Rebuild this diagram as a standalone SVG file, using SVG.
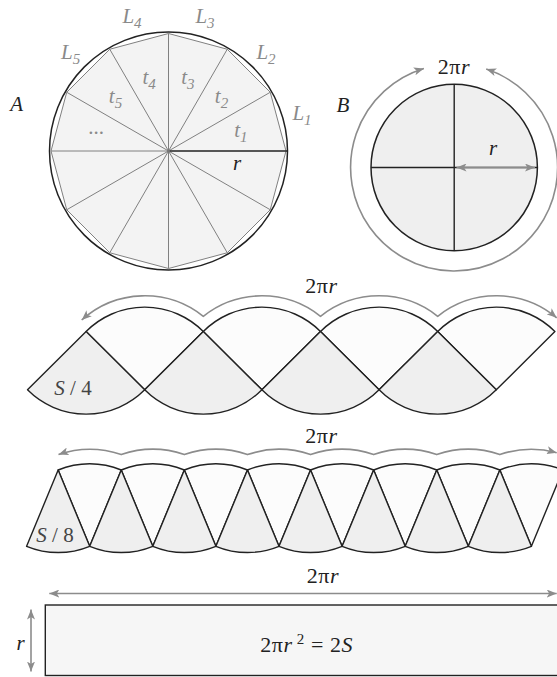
<svg xmlns="http://www.w3.org/2000/svg" width="557" height="677" viewBox="0 0 557 677">
<style>
.bg{fill:#ffffff}
.ol{stroke:#222;stroke-width:1.4;fill:none;stroke-linejoin:round}
.sh{fill:#efefef;stroke:#222;stroke-width:1.4;stroke-linejoin:round}
.wh{fill:#fcfcfc;stroke:#222;stroke-width:1.4;stroke-linejoin:round}
.poly{fill:#f3f3f3;stroke:#808080;stroke-width:1}
.spk{stroke:#808080;stroke-width:1;fill:none}
.arr{stroke:#8c8c8c;stroke-width:1.6;fill:none;marker-start:url(#ah);marker-end:url(#ah)}
.m{font-family:"Liberation Serif","Times New Roman",serif;font-style:italic;font-size:21px;fill:#222}
.big{font-size:22px;letter-spacing:0.6px}
.g{fill:#8a8a8a}
.d{fill:#444}
.u{font-style:normal}
</style>
<defs>
<marker id="ah" viewBox="0 0 10 8" refX="10" refY="4" markerWidth="10" markerHeight="8" markerUnits="userSpaceOnUse" orient="auto-start-reverse">
<path d="M0,0 L10,4 L0,8 L2.5,4 Z" fill="#8c8c8c"/>
</marker>
</defs>
<rect class="bg" x="0" y="0" width="557" height="677"/>

<g id="circleA">
<circle cx="168.5" cy="151" r="119" fill="#ffffff" stroke="#222" stroke-width="1.5"/>
<polygon class="poly" points="286,151 270.26,92.25 227.25,49.24 168.5,33.5 109.75,49.24 66.74,92.25 51,151 66.74,209.75 109.75,252.76 168.5,268.5 227.25,252.76 270.26,209.75"/>
<path class="spk" d="M168.5,151 L270.26,92.25 M168.5,151 L227.25,49.24 M168.5,151 L168.5,33.5 M168.5,151 L109.75,49.24 M168.5,151 L66.74,92.25 M168.5,151 L51,151 M168.5,151 L66.74,209.75 M168.5,151 L109.75,252.76 M168.5,151 L168.5,268.5 M168.5,151 L227.25,252.76 M168.5,151 L270.26,209.75"/>
<line x1="168.5" y1="151" x2="287.5" y2="151" stroke="#222" stroke-width="1.5"/>
<circle cx="168.5" cy="151" r="1.6" fill="#777"/>
<text class="m" x="16.7" y="111" text-anchor="middle">A</text>
<text class="m" x="237" y="169.5" text-anchor="middle">r</text>
<text class="m g" x="240.9" y="136.5" text-anchor="middle">t<tspan font-size="15" dy="5">1</tspan></text>
<text class="m g" x="221.5" y="103" text-anchor="middle">t<tspan font-size="15" dy="5">2</tspan></text>
<text class="m g" x="187.9" y="83.6" text-anchor="middle">t<tspan font-size="15" dy="5">3</tspan></text>
<text class="m g" x="149.1" y="83.6" text-anchor="middle">t<tspan font-size="15" dy="5">4</tspan></text>
<text class="m g" x="115.5" y="103" text-anchor="middle">t<tspan font-size="15" dy="5">5</tspan></text>
<text class="m g u" x="96.1" y="134" text-anchor="middle">...</text>
<text class="m g" x="302" y="120" text-anchor="middle">L<tspan font-size="15" dy="5">1</tspan></text>
<text class="m g" x="266" y="59" text-anchor="middle">L<tspan font-size="15" dy="5">2</tspan></text>
<text class="m g" x="205" y="23" text-anchor="middle">L<tspan font-size="15" dy="5">3</tspan></text>
<text class="m g" x="132" y="23" text-anchor="middle">L<tspan font-size="15" dy="5">4</tspan></text>
<text class="m g" x="70.6" y="59" text-anchor="middle">L<tspan font-size="15" dy="5">5</tspan></text>
</g>

<g id="circleB">
<circle cx="454.2" cy="167.5" r="83.2" fill="#efefef" stroke="#222" stroke-width="1.5"/>
<path class="ol" d="M454.2,84.3 L454.2,250.7 M371,167.5 L537.4,167.5"/>
<text class="m" x="343" y="112" text-anchor="middle">B</text>
<text class="m big" x="454" y="73.5" text-anchor="middle"><tspan class="u">2π</tspan>r</text>
<text class="m" x="493" y="154.5" text-anchor="middle">r</text>
</g>

<g id="quarters">
<path class="wh" d="M144.7,389.8 L86.1,331.5 A82.66,82.66 0 0 1 203.3,331.5 Z"/>
<path class="wh" d="M261.9,389.8 L203.3,331.5 A82.66,82.66 0 0 1 320.5,331.5 Z"/>
<path class="wh" d="M379.1,389.8 L320.5,331.5 A82.66,82.66 0 0 1 437.7,331.5 Z"/>
<path class="wh" d="M496.3,389.8 L437.7,331.5 A82.66,82.66 0 0 1 554.9,331.5 Z"/>
<path class="sh" d="M86.1,331.5 L144.7,389.8 A82.66,82.66 0 0 1 27.5,389.8 Z"/>
<path class="sh" d="M203.3,331.5 L261.9,389.8 A82.66,82.66 0 0 1 144.7,389.8 Z"/>
<path class="sh" d="M320.5,331.5 L379.1,389.8 A82.66,82.66 0 0 1 261.9,389.8 Z"/>
<path class="sh" d="M437.7,331.5 L496.3,389.8 A82.66,82.66 0 0 1 379.1,389.8 Z"/>
<text class="m d" x="73" y="395" text-anchor="middle">S<tspan class="u"> / 4</tspan></text>
<text class="m big" x="321.5" y="292.5" text-anchor="middle"><tspan class="u">2π</tspan>r</text>
</g>

<g id="eighths">
<path class="wh" d="M89.7,546.3 L58.15,470 A82.57,82.57 0 0 1 121.25,470 Z"/>
<path class="wh" d="M152.8,546.3 L121.25,470 A82.57,82.57 0 0 1 184.35,470 Z"/>
<path class="wh" d="M215.9,546.3 L184.35,470 A82.57,82.57 0 0 1 247.45,470 Z"/>
<path class="wh" d="M279,546.3 L247.45,470 A82.57,82.57 0 0 1 310.55,470 Z"/>
<path class="wh" d="M342.1,546.3 L310.55,470 A82.57,82.57 0 0 1 373.65,470 Z"/>
<path class="wh" d="M405.2,546.3 L373.65,470 A82.57,82.57 0 0 1 436.75,470 Z"/>
<path class="wh" d="M468.3,546.3 L436.75,470 A82.57,82.57 0 0 1 499.85,470 Z"/>
<path class="wh" d="M531.4,546.3 L499.85,470 A82.57,82.57 0 0 1 562.95,470 Z"/>
<path class="sh" d="M58.15,470 L89.7,546.3 A82.57,82.57 0 0 1 26.6,546.3 Z"/>
<path class="sh" d="M121.25,470 L152.8,546.3 A82.57,82.57 0 0 1 89.7,546.3 Z"/>
<path class="sh" d="M184.35,470 L215.9,546.3 A82.57,82.57 0 0 1 152.8,546.3 Z"/>
<path class="sh" d="M247.45,470 L279,546.3 A82.57,82.57 0 0 1 215.9,546.3 Z"/>
<path class="sh" d="M310.55,470 L342.1,546.3 A82.57,82.57 0 0 1 279,546.3 Z"/>
<path class="sh" d="M373.65,470 L405.2,546.3 A82.57,82.57 0 0 1 342.1,546.3 Z"/>
<path class="sh" d="M436.75,470 L468.3,546.3 A82.57,82.57 0 0 1 405.2,546.3 Z"/>
<path class="sh" d="M499.85,470 L531.4,546.3 A82.57,82.57 0 0 1 468.3,546.3 Z"/>
<text class="m d" x="55" y="542" text-anchor="middle">S<tspan class="u"> / 8</tspan></text>
<text class="m big" x="321.5" y="442.5" text-anchor="middle"><tspan class="u">2π</tspan>r</text>
</g>

<g id="rectangle">
<rect x="45.3" y="605" width="530" height="70.5" fill="#f6f6f6" stroke="#222" stroke-width="1.4"/>
<text class="m big" x="323" y="583" text-anchor="middle"><tspan class="u">2π</tspan>r</text>
<text class="m" x="20.7" y="650" text-anchor="middle">r</text>
<text class="m big" x="306.7" y="652" text-anchor="middle"><tspan class="u">2π</tspan>r<tspan font-size="15" dx="4" dy="-8" class="u">2</tspan><tspan class="u" dy="8"> = 2</tspan>S</text>
</g>

<g id="connectors">
<path class="arr" d="M423.9,68.5 A103.5,103.5 0 1 0 486.2,69.1"/>
<path class="arr" d="M456.5,167.5 L535,167.5"/>
<path class="arr" d="M81.7,320 A94,94 0 0 1 203.3,316.3 A94,94 0 0 1 320.5,316.3 A94,94 0 0 1 437.7,316.3 A94,94 0 0 1 556.7,317.8"/>
<path class="arr" d="M58.5,454.5 A97,97 0 0 1 121.25,454.6 A97,97 0 0 1 184.35,454.6 A97,97 0 0 1 247.45,454.6 A97,97 0 0 1 310.55,454.6 A97,97 0 0 1 373.65,454.6 A97,97 0 0 1 436.75,454.6 A97,97 0 0 1 499.85,454.6 A97,97 0 0 1 556.7,452.7"/>
<path class="arr" d="M49.3,593.5 L556.7,593.5"/>
<path class="arr" d="M31,609.5 L31,671.5"/>
</g>
</svg>
